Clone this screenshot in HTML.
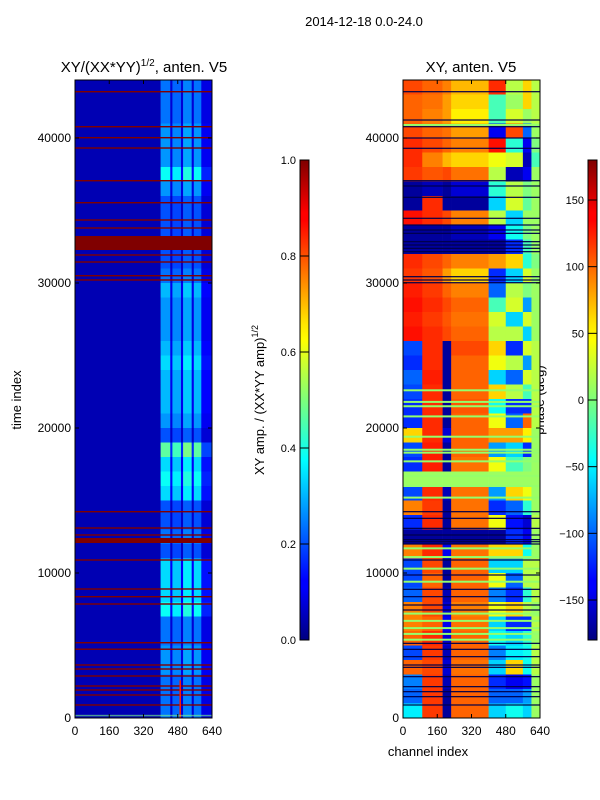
<!DOCTYPE html>
<html><head><meta charset="utf-8"><style>
body{margin:0;background:#fff;width:600px;height:800px;overflow:hidden}
svg{display:block;font-family:"Liberation Sans",sans-serif}
</style></head><body>
<svg id="fig" width="600" height="800" viewBox="0 0 600 800">
<text x="364" y="26" font-size="13" text-anchor="middle">2014-12-18 0.0-24.0</text>
<text x="144" y="72" font-size="15" text-anchor="middle">XY/(XX*YY)<tspan dy="-6" font-size="10">1/2</tspan><tspan dy="6">, anten. V5</tspan></text>
<text x="471" y="72" font-size="15" text-anchor="middle">XY, anten. V5</text>
<text transform="translate(21,400) rotate(-90)" font-size="13" text-anchor="middle">time index</text>
<text x="428" y="756" font-size="13" text-anchor="middle">channel index</text>
<text transform="translate(264,400) rotate(-90)" font-size="13" text-anchor="middle">XY amp. / (XX*YY amp)<tspan dy="-6" font-size="9">1/2</tspan></text>
<text transform="translate(544,400) rotate(-90)" font-size="13" text-anchor="middle">phase (deg)</text>
<defs>
<linearGradient id="jet" x1="0" y1="1" x2="0" y2="0">
<stop offset="0" stop-color="#00007f"/><stop offset="0.11" stop-color="#0000ff"/><stop offset="0.125" stop-color="#0000ff"/><stop offset="0.34" stop-color="#00ddff"/><stop offset="0.375" stop-color="#00ffff"/><stop offset="0.5" stop-color="#7dff7a"/><stop offset="0.625" stop-color="#ffff00"/><stop offset="0.66" stop-color="#ffe600"/><stop offset="0.875" stop-color="#ff0000"/><stop offset="0.89" stop-color="#ff0000"/><stop offset="1" stop-color="#7f0000"/>
</linearGradient>
</defs>
<g id="left"></g><g id="right"></g><g id="axes"></g>
</svg>
<script>
const NS="http://www.w3.org/2000/svg";
// ---- data ----
const timeMax=44000;
const rowSize=1000;
const ampBase=0.05;
const ampColEdges=[0,400,445,455,495,505,545,555,590,640];
const ampColFactor=[0,0.85,0.3,0.8,0.3,0.9,0.3,0.85,0.35];
const ampRowLevel=[0.28,0.28,0.28,0.32,0.32,0.32,0.45,0.32,0.24,0.24,0.24,0.24,0.24,0.28,0.36,0.32,0.32,0.32,0.36,0.4,0.36,0.36,0.36,0.32,0.24,0.55,0.4,0.45,0.4,0.24,0.24,0.28,0.24,0.4,0.4,0.4,0.45,0.28,0.28,0.32,0.32,0.28,0.28,0.28];
const ampRedLines=[43193,40779,40021,39310,37055,35538,34345,33793,31931,31448,30503,30207,14228,13103,12621,10897,8897,8366,7862,5193,4745,3655,3379,2897,2207,1931,1586,897];
const ampRedBandStart=[32276,12069];
const ampRedBandEnd=[33241,12414];
const phaseColEdges=[0,90,185,225,400,480,560,600,640];
const phaseGrid=[
[110,100,90,70,120,20,60,20],
[100,95,80,60,-20,10,60,20],
[100,90,80,50,-20,30,10,20],
[110,100,95,80,-140,110,-100,10],
[120,110,100,90,130,-30,-140,0],
[120,90,70,60,40,30,-160,-20],
[115,105,110,95,20,-160,-140,10],
[-170,-160,-170,-150,-30,20,0,10],
[-170,120,-170,-170,-60,30,-10,10],
[130,120,110,90,20,-60,10,10],
[-170,-170,-170,-160,-140,-40,0,10],
[-170,-170,-170,-170,-170,-120,-20,10],
[120,110,100,90,80,60,-30,0],
[115,105,80,60,-120,-60,30,10],
[125,115,100,90,-100,20,0,10],
[130,120,110,100,-20,30,-80,10],
[125,115,105,95,30,-60,30,10],
[130,120,110,100,20,20,-60,10],
[-110,120,-170,110,60,-120,30,20],
[-120,120,-170,100,40,20,-80,20],
[-100,125,-170,100,-60,-100,30,20],
[-110,120,-170,100,60,20,-20,20],
[-120,120,-170,105,-40,-120,-120,20],
[-120,120,-170,100,40,-100,100,20],
[60,120,-150,100,80,80,50,10],
[-110,125,-170,100,-80,-60,-120,10],
[-120,125,-170,95,40,-20,0,10],
[10,10,10,10,10,10,10,10],
[-110,120,-160,95,-80,60,40,10],
[90,115,-170,95,-120,-100,-30,10],
[-120,120,-170,95,40,-130,-150,20],
[-170,-170,-170,-170,-170,-120,-140,10],
[90,120,-140,95,60,60,-40,10],
[-110,110,-170,100,-60,-60,20,20],
[-110,100,-170,100,40,-100,20,20],
[-100,110,-160,100,-90,-120,-30,20],
[90,110,-150,90,40,60,20,10],
[90,100,-140,95,-60,-120,-120,20],
[100,120,-150,100,-40,-60,-30,10],
[-110,115,-160,100,-90,-50,-40,20],
[100,110,-150,95,-60,60,-40,20],
[-90,115,-160,100,-120,-140,-130,10],
[-100,115,-170,100,-100,-100,-80,10],
[-50,115,-170,100,-60,-40,-60,10]];
const phaseDarkLines=[43193,41241,40779,40000,39290,37055,36690,35910,34462,34000,33655,33425,32850,32620,32390,32160,30435,30207,30020,14228,13770,13080,12621,12300,12158,12000,10897,9862,8874,8368,7793,7448,5149,4736,4230,3655,3494,2851,2161,1816,1471,897];
const phaseGreenLines=[40900,22600,21800,21500,20800,19400,18500,18300,17700,16700,16000,15200,11700,11100,10300,9400,7200,6700,6200,5800,5400];
const timeTicks=[0,10000,20000,30000,40000];
const chanTicks=[0,160,320,480,640];
const ampTicks=[0.0,0.2,0.4,0.6,0.8,1.0];
const phaseTicks=[-150,-100,-50,0,50,100,150];
// ---- geometry ----
const L={x0:75,x1:212},R={x0:403,x1:540},Y0=718,Y1=80;
const yS=t=>Y0-(t/timeMax)*(Y0-Y1);
const xS=(p,c)=>p.x0+(c/640)*(p.x1-p.x0);
function jet(v){v=Math.max(0,Math.min(1,v));
 const f=(x)=>Math.max(0,Math.min(1,1.5-Math.abs(4*v-x)));
 const r=f(3),g=f(2),b=f(1);
 return `rgb(${Math.round(r*255)},${Math.round(g*255)},${Math.round(b*255)})`;}
function mk(tag,attrs,parent){const e=document.createElementNS(NS,tag);for(const k in attrs)e.setAttribute(k,attrs[k]);parent.appendChild(e);return e;}
const gl=document.getElementById('left'),gr=document.getElementById('right'),ga=document.getElementById('axes');
// left heatmap
ampRowLevel.forEach((lv,k)=>{
 const tTop=timeMax-k*rowSize,tBot=tTop-rowSize;
 for(let c=0;c<ampColFactor.length;c++){
  const v=Math.max(ampBase,lv*ampColFactor[c]);
  const r=mk('rect',{x:xS(L,ampColEdges[c]),y:yS(tTop),width:xS(L,ampColEdges[c+1])-xS(L,ampColEdges[c])+0.3,height:yS(tBot)-yS(tTop)+0.3,fill:jet(v)},gl);
  
  
 }
});
ampRedLines.forEach(t=>{
 const r=mk('rect',{x:L.x0,y:yS(t)-0.7,width:L.x1-L.x0,height:1.4,fill:jet(1)},gl);
 
 
});
ampRedBandStart.forEach((t0,i)=>{
 const t1=ampRedBandEnd[i];
 const r=mk('rect',{x:L.x0,y:yS(t1),width:L.x1-L.x0,height:yS(t0)-yS(t1),fill:jet(1)},gl);
 
 
});
{
 const r=mk('rect',{x:xS(L,488),y:yS(2600),width:1.5,height:yS(0)-yS(2600),fill:jet(0.85)},gl);
 
 
 const b=mk('rect',{x:L.x0,y:yS(150)-1,width:L.x1-L.x0,height:1.5,fill:jet(0.5),opacity:0.6},gl);
 
 
}
// right heatmap
phaseGrid.forEach((row,k)=>{
 const tTop=timeMax-k*rowSize,tBot=tTop-rowSize;
 row.forEach((v,c)=>{
  const r=mk('rect',{x:xS(R,phaseColEdges[c]),y:yS(tTop),width:xS(R,phaseColEdges[c+1])-xS(R,phaseColEdges[c])+0.3,height:yS(tBot)-yS(tTop)+0.3,fill:jet((v+180)/360)},gr);
  
  
 });
});
phaseGreenLines.forEach(t=>{
 const r=mk('rect',{x:R.x0,y:yS(t)-1,width:R.x1-R.x0,height:2,fill:jet(0.52)},gr);
 
 
});
phaseDarkLines.forEach(t=>{
 const r=mk('rect',{x:R.x0,y:yS(t)-0.6,width:R.x1-R.x0,height:1.2,fill:'#00004a'},gr);
 
 
});
// frames & ticks
[[L,'left'],[R,'right']].forEach(([P,nm])=>{
 const f=mk('rect',{x:P.x0,y:Y1,width:P.x1-P.x0,height:Y0-Y1,fill:'none',stroke:'#000','stroke-width':1},ga);
 
 
 timeTicks.forEach(t=>{
  const y=yS(t);
  mk('line',{x1:P.x0,x2:P.x0+4,y1:y,y2:y,stroke:'#000'},ga);
  mk('line',{x1:P.x1,x2:P.x1-4,y1:y,y2:y,stroke:'#000'},ga);
  const tx=mk('text',{x:P.x0-4,y:y+4,'font-size':12,'text-anchor':'end'},ga);
  tx.textContent=t;
  
  
 });
 chanTicks.forEach(c=>{
  const x=xS(P,c);
  mk('line',{x1:x,x2:x,y1:Y0,y2:Y0-4,stroke:'#000'},ga);
  mk('line',{x1:x,x2:x,y1:Y1,y2:Y1+4,stroke:'#000'},ga);
  const tx=mk('text',{x:x,y:Y0+17,'font-size':12,'text-anchor':'middle'},ga);
  tx.textContent=c;
  
  
 });
});
// colorbars
function cbar(x,ticks,lo,hi,nm,fmt){
 const r=mk('rect',{x:x,y:160,width:9,height:480,fill:'url(#jet)',stroke:'#000','stroke-width':1},ga);
 
 
 ticks.forEach(v=>{
  const y=640-(v-lo)/(hi-lo)*480;
  mk('line',{x1:x,x2:x+9,y1:y,y2:y,stroke:'#000'},ga);
  const tx=mk('text',{x:x-4,y:y+4,'font-size':11,'text-anchor':'end'},ga);
  tx.textContent=fmt(v);
  
  
 });
}
cbar(300,ampTicks,0,1,'amp-colorbar',v=>v.toFixed(1));
cbar(588,phaseTicks,-180,180,'phase-colorbar',v=>v<0?'\u2212'+(-v):String(v));
</script>
</body></html>
